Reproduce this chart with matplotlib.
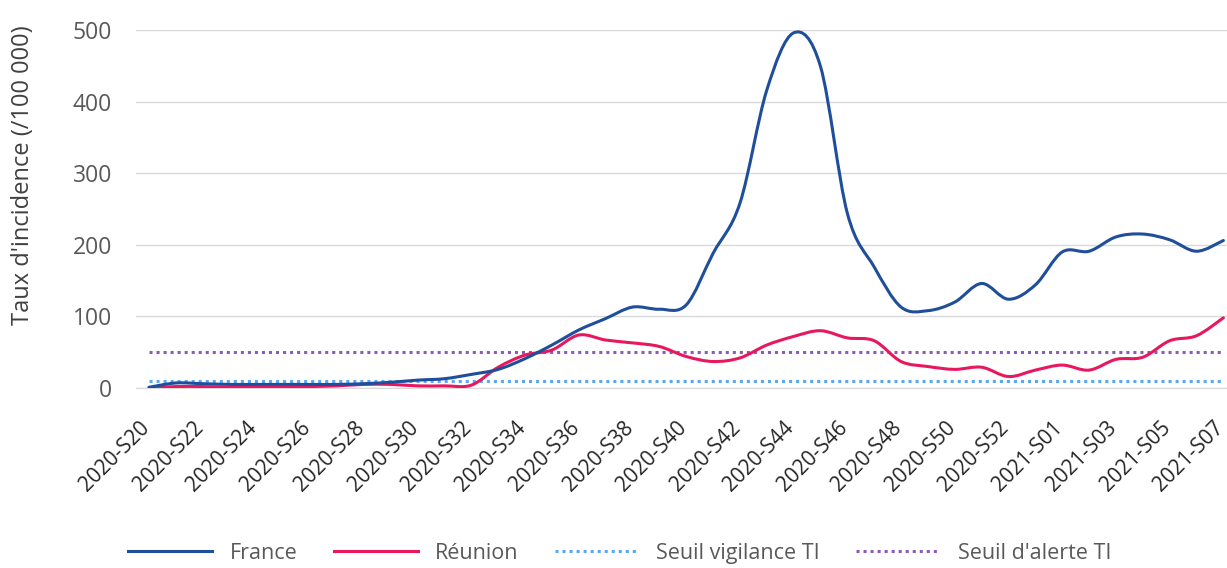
import matplotlib.pyplot as plt
import matplotlib.transforms as mtransforms
from matplotlib.path import Path
from matplotlib.patches import PathPatch
from matplotlib.lines import Line2D

# semaines 2020-S20 .. 2020-S53, 2021-S01 .. 2021-S07
weeks = ["2020-S%02d" % w for w in range(20, 54)] + ["2021-S%02d" % w for w in range(1, 8)]

france = [1, 7, 6, 5, 5, 5, 5, 5, 6, 8, 11, 13, 19, 26, 41, 60, 81, 97, 113, 110, 116,
          188, 258, 416, 496, 449, 244, 169, 113, 108, 120, 146, 124, 144, 190, 191,
          211, 215, 207, 191, 206]
reunion = [0, 2, 2, 1, 1, 1, 2, 3, 5, 5, 3, 3, 4, 29, 46, 53, 74, 67, 63, 58, 44,
           37, 42, 60, 72, 80, 70, 66, 37, 30, 26, 29, 16, 25, 32, 25, 40, 43, 66, 73, 98]
seuil_vigilance = 10
seuil_alerte = 50

plt.rcParams['font.family'] = ['Open Sans', 'DejaVu Sans']

fig = plt.figure(figsize=(12.27, 5.68), dpi=100)
ax = fig.add_axes([0.1105, 0.3169, 0.8975, 0.6303])

def smooth_path(ys):
    # courbe lissée facon Excel (Bezier type Catmull-Rom passant par les points)
    n = len(ys)
    pts = [(i, y) for i, y in enumerate(ys)]
    verts = [pts[0]]
    codes = [Path.MOVETO]
    for i in range(n - 1):
        p0 = pts[max(i - 1, 0)]
        p1 = pts[i]
        p2 = pts[i + 1]
        p3 = pts[min(i + 2, n - 1)]
        c1 = (p1[0] + (p2[0] - p0[0]) / 6, p1[1] + (p2[1] - p0[1]) / 6)
        c2 = (p2[0] - (p3[0] - p1[0]) / 6, p2[1] - (p3[1] - p1[1]) / 6)
        verts += [c1, c2, p2]
        codes += [Path.CURVE4] * 3
    return Path(verts, codes)

c_fr = '#1f4e9a'
c_re = '#e8185e'
c_vig = '#5aa8f5'
c_al = '#8c5bb8'

x = list(range(len(weeks)))
ax.plot(x, [seuil_vigilance] * len(x), color=c_vig, lw=2.2, ls=(0, (1, 1.3)), zorder=2)
ax.plot(x, [seuil_alerte] * len(x), color=c_al, lw=2.2, ls=(0, (1, 1.3)), zorder=2)
ax.add_patch(PathPatch(smooth_path(reunion), fill=False, edgecolor=c_re, lw=2.2,
                       capstyle='round', joinstyle='round', zorder=3))
ax.add_patch(PathPatch(smooth_path(france), fill=False, edgecolor=c_fr, lw=2.2,
                       capstyle='round', joinstyle='round', zorder=4))

ax.set_xlim(-0.5, len(weeks) - 0.5)
ax.set_ylim(0, 500)
ax.set_yticks([0, 100, 200, 300, 400, 500])
ax.yaxis.grid(True, color='#d9d9d9', lw=1)
ax.set_axisbelow(True)
for s in ['top', 'right', 'left']:
    ax.spines[s].set_visible(False)
ax.spines['bottom'].set_color('#d9d9d9')
ax.tick_params(axis='y', length=0, labelsize=16.5, labelcolor='#595959', pad=17)
ax.set_xticks(x[::2])
ax.set_xticklabels(weeks[::2], rotation=45, ha='right', rotation_mode='anchor',
                   fontsize=15, color='#262626')
ax.tick_params(axis='x', length=0, pad=21)
shift = mtransforms.ScaledTranslation(-10 / 100, 0, fig.dpi_scale_trans)
for lab in ax.get_xticklabels():
    lab.set_transform(lab.get_transform() + shift)

ax.set_ylabel("Taux d'incidence (/100 000)", fontsize=17, color='#404040')
ax.yaxis.set_label_coords(-0.091, 0.595)

handles = [Line2D([], [], color=c_fr, lw=2.2),
           Line2D([], [], color=c_re, lw=2.2),
           Line2D([], [], color=c_vig, lw=2.2, ls=(0, (1, 1.3))),
           Line2D([], [], color=c_al, lw=2.2, ls=(0, (1, 1.3)))]
fig.legend(handles, ['France', 'Réunion', 'Seuil vigilance TI', "Seuil d'alerte TI"],
           loc='lower center', bbox_to_anchor=(0.505, -0.027), ncol=4, frameon=False,
           fontsize=15.5, labelcolor='#595959', handlelength=3.9, handletextpad=0.8,
           columnspacing=1.7)

plt.savefig('out.png')
